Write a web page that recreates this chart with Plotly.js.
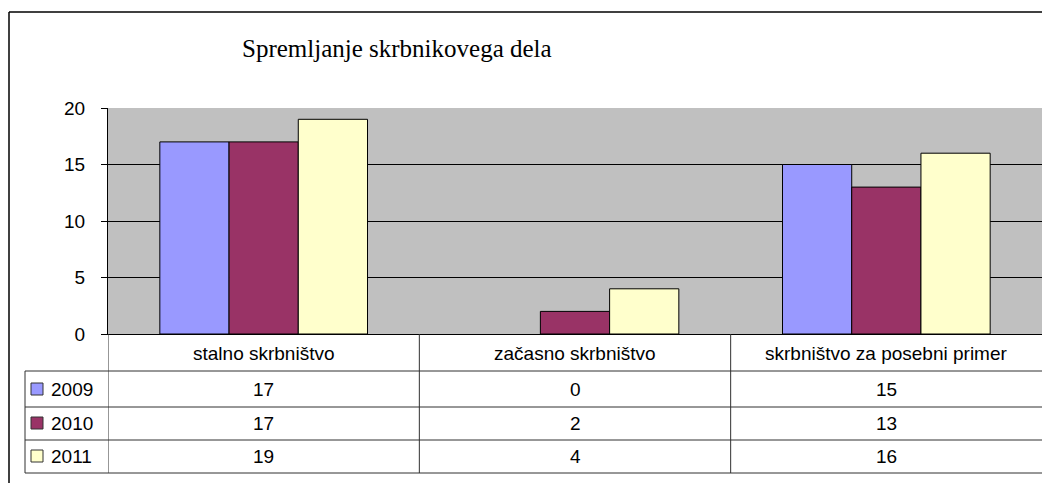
<!DOCTYPE html>
<html>
<head>
<meta charset="utf-8">
<script src="https://cdn.plot.ly/plotly-3.0.1.min.js"></script>
<style>html,body{margin:0;padding:0;background:#fff;overflow:hidden;}#chart{width:1042px;height:483px;}</style>
</head>
<body>
<div id="chart"></div>
<script>
const categories = ["stalno skrbništvo", "začasno skrbništvo", "skrbništvo za posebni primer"];
const seriesNames = ["2009", "2010", "2011"];
const values2009 = [17, 0, 15];
const values2010 = [17, 2, 13];
const values2011 = [19, 4, 16];
const seriesColors = ["#9999FF", "#993366", "#FFFFCC"];
const yTicks = [0, 5, 10, 15, 20];
const chartTitle = "Spremljanje skrbnikovega dela";

const seriesValues = [values2009, values2010, values2011];
const catIdx = categories.map((c, i) => i);

const traces = seriesValues.map((vals, s) => ({
  type: "bar",
  name: seriesNames[s],
  x: catIdx,
  y: vals,
  marker: {color: seriesColors[s], line: {color: "#000", width: vals.map(v => v === 0 ? 0 : 1)}},
  hoverinfo: "skip"
}));

// pixel -> paper helpers (plot area: x 108..1042, y 108..334)
const L = 108, R = 1042, T = 108, B = 334;
const px = x => (x - L) / (R - L);
const py = y => (B - y) / (B - T);

const lineCol = "#303030";
const txtFont = {family: "Liberation Sans, Arial", size: 19, color: "#000"};
const shapes = [];
const annotations = [];

// outer chart border (top and left edges; right and bottom are outside the picture)
shapes.push({type: "line", xref: "paper", yref: "paper", x0: px(9), x1: 1, y0: py(12), y1: py(12),
  line: {color: "#000", width: 1.5}});
shapes.push({type: "line", xref: "paper", yref: "paper", x0: px(9), x1: px(9), y0: py(12), y1: py(483),
  line: {color: "#000", width: 1.5}});

// table horizontal lines
[371, 407, 440, 473].forEach(yy => shapes.push({type: "line", xref: "paper", yref: "paper",
  x0: px(25), x1: 1, y0: py(yy), y1: py(yy), line: {color: lineCol, width: 1}}));
// table left border
shapes.push({type: "line", xref: "paper", yref: "paper", x0: px(25), x1: px(25), y0: py(371), y1: py(473), line: {color: lineCol, width: 1}});
// column dividers (category boundaries)
[-0.5, 0.5, 1.5].forEach(xx => shapes.push({type: "line", xref: "x", yref: "paper",
  x0: xx, x1: xx, y0: py(334), y1: py(473), line: {color: lineCol, width: 1}}));

// header labels
categories.forEach((c, i) => annotations.push({xref: "x", yref: "paper", x: i, y: py(353), text: c,
  showarrow: false, xanchor: "center", yanchor: "middle", font: txtFont}));

// table rows
const rowCenters = [389, 423.5, 456.5];
const rowTops = [383, 417, 450];
seriesValues.forEach((vals, s) => {
  shapes.push({type: "rect", xref: "paper", yref: "paper", x0: px(31), x1: px(43),
    y0: py(rowTops[s] + 12), y1: py(rowTops[s]), fillcolor: seriesColors[s], line: {color: "#333", width: 1}});
  annotations.push({xref: "paper", yref: "paper", x: px(49), y: py(rowCenters[s]), text: seriesNames[s],
    showarrow: false, xanchor: "left", yanchor: "middle", font: txtFont});
  vals.forEach((v, i) => annotations.push({xref: "x", yref: "paper", x: i, y: py(rowCenters[s]), text: String(v),
    showarrow: false, xanchor: "center", yanchor: "middle", font: txtFont}));
});

// title
annotations.push({xref: "paper", yref: "paper", x: px(397), y: py(48), text: chartTitle, showarrow: false,
  xanchor: "center", yanchor: "middle", font: {family: "Liberation Serif, Times New Roman", size: 25, color: "#000"}});

const layout = {
  width: 1042, height: 483,
  margin: {l: L, r: 1042 - R, t: T, b: 483 - B, pad: 0},
  paper_bgcolor: "#fff",
  plot_bgcolor: "#C0C0C0",
  showlegend: false,
  barmode: "group",
  bargap: 0.333,
  bargroupgap: 0,
  xaxis: {type: "linear", range: [-0.5, 2.5], showticklabels: false, showgrid: false, zeroline: false,
    showline: true, linecolor: "#000", linewidth: 1, ticks: "", fixedrange: true},
  yaxis: {range: [0, 20], tickvals: yTicks, ticktext: yTicks.map(String), showgrid: true, gridcolor: "#000", gridwidth: 1,
    zeroline: false, showline: true, linecolor: "#000", linewidth: 1, ticks: "outside", ticklen: 6, tickcolor: "#000",
    ticklabelstandoff: 12, tickfont: txtFont, fixedrange: true},
  shapes: shapes,
  annotations: annotations
};

Plotly.newPlot("chart", traces, layout, {displayModeBar: false, staticPlot: true});
</script>
</body>
</html>
